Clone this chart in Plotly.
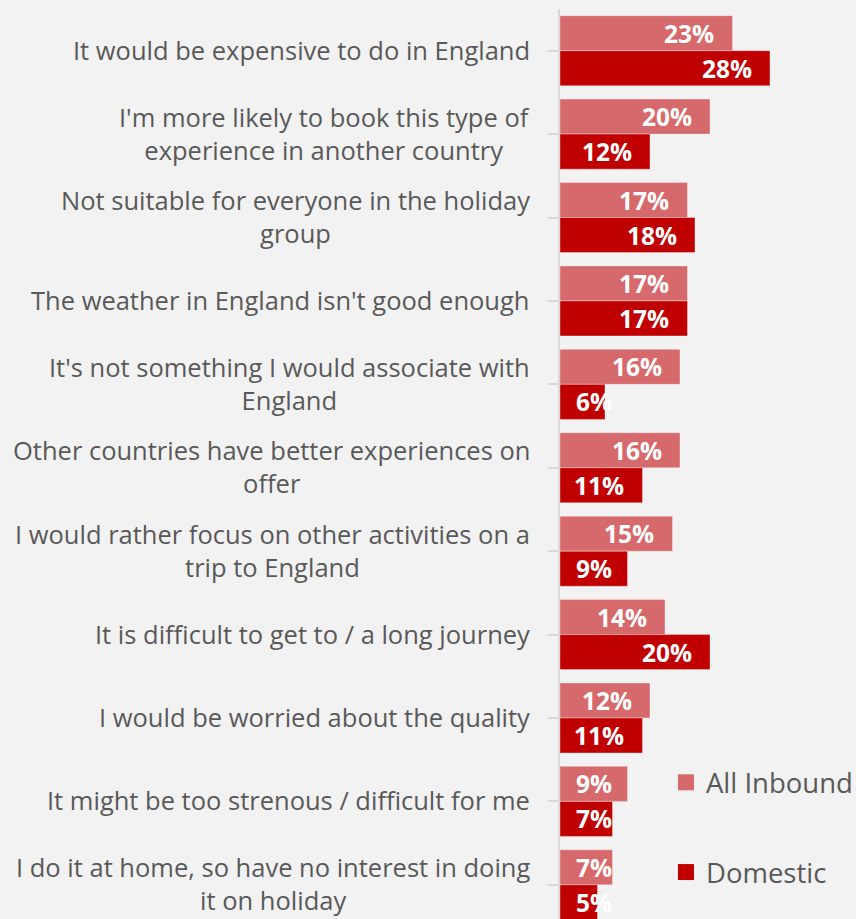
import plotly.graph_objects as go

# Reasons for not doing the activity in England (% of respondents)
categories = [
    "It would be expensive to do in England",
    "I'm more likely to book this type of<br>experience in another country",
    "Not suitable for everyone in the holiday<br>group",
    "The weather in England isn't good enough",
    "It's not something I would associate with<br>England",
    "Other countries have better experiences on<br>offer",
    "I would rather focus on other activities on a<br>trip to England",
    "It is difficult to get to / a long journey",
    "I would be worried about the quality",
    "It might be too strenous / difficult for me",
    "I do it at home, so have no interest in doing<br>it on holiday",
]
all_inbound = [23, 20, 17, 17, 16, 16, 15, 14, 12, 9, 7]
domestic = [28, 12, 18, 17, 6, 11, 9, 20, 11, 7, 5]

LIGHT = "#d6696b"
DARK = "#c00000"
TEXT = "#595959"
BG = "#f2f2f2"
FONT = "Open Sans"

idx = list(range(len(categories)))
bar_line = dict(color="rgba(255,255,255,0.35)", width=1)

fig = go.Figure()
fig.add_trace(go.Bar(
    name="All Inbound", y=idx, x=all_inbound, orientation="h",
    marker=dict(color=LIGHT, line=bar_line), showlegend=False, hoverinfo="skip",
))
fig.add_trace(go.Bar(
    name="Domestic", y=idx, x=domestic, orientation="h",
    marker=dict(color=DARK, line=bar_line), showlegend=False, hoverinfo="skip",
))
# legend entries with larger square swatches
for name, color, group in (("All Inbound", LIGHT, "a"), ("Domestic", DARK, "b")):
    fig.add_trace(go.Scatter(
        name=name, x=[None], y=[None], mode="markers", legendgroup=group,
        marker=dict(symbol="square", size=18, color=color), hoverinfo="skip",
    ))

annotations = []
# category labels, centred lines, right edge just left of the axis
for i, cat in enumerate(categories):
    annotations.append(dict(
        text=cat, xref="paper", yref="y", x=-28 / 296, y=i,
        xanchor="right", yanchor="middle", align="center", showarrow=False,
        yshift=1, font=dict(family=FONT, size=25.5, color=TEXT),
    ))
# value labels at the inner end of each bar; short bars keep the label by the axis
for series, shift in ((all_inbound, 17.5), (domestic, -17.5)):
    for i, v in enumerate(series):
        short = v < 10
        annotations.append(dict(
            text=f"{v}%", xref="x", yref="y", x=0 if short else v, y=i,
            xanchor="left" if short else "right", yanchor="middle",
            xshift=14 if short else -16, yshift=shift, showarrow=False,
            font=dict(family=FONT, size=24.5, color="white", weight="bold"),
        ))

fig.update_layout(
    width=856, height=919,
    margin=dict(l=560, r=0, t=9, b=0, autoexpand=False),
    paper_bgcolor=BG, plot_bgcolor=BG,
    barmode="group", bargap=0.16, bargroupgap=0,
    font=dict(family=FONT, color=TEXT),
    showlegend=True,
    legend=dict(
        x=0.358, y=0.177, xanchor="left", yanchor="top",
        bgcolor="rgba(0,0,0,0)", font=dict(family=FONT, size=27.5, color=TEXT),
        tracegroupgap=51, traceorder="grouped",
    ),
    xaxis=dict(range=[0, 39.47], visible=False),
    yaxis=dict(
        range=[10.41, -0.5], tickmode="array", tickvals=idx, ticktext=[""] * len(idx),
        tickson="boundaries", ticks="outside", ticklen=10, tickcolor="#d9d9d9",
        tickwidth=2, showline=True, linecolor="#d9d9d9", linewidth=2,
        showgrid=False, zeroline=False, fixedrange=True,
    ),
    annotations=annotations,
)

fig.write_html("out.html")
